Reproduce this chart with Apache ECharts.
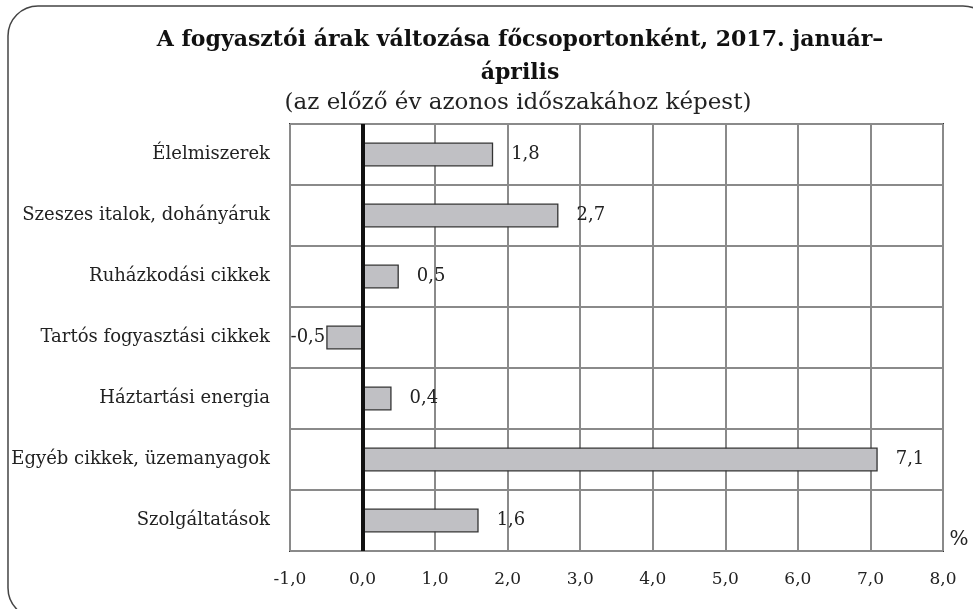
<!DOCTYPE html>
<html>
<head>
<meta charset="utf-8">
<script src="https://cdn.jsdelivr.net/npm/echarts@6/dist/echarts.min.js"></script>
<style>
  html, body { margin: 0; padding: 0; background: #fff; }
  #chart { width: 973px; height: 609px; }
</style>
</head>
<body>
<div id="chart"></div>
<script>
// főcsoportok és változás (%)
var categories = [
  "Élelmiszerek",
  "Szeszes italok, dohányáruk",
  "Ruházkodási cikkek",
  "Tartós fogyasztási cikkek",
  "Háztartási energia",
  "Egyéb cikkek, üzemanyagok",
  "Szolgáltatások"
];
var values = [1.8, 2.7, 0.5, -0.5, 0.4, 7.1, 1.6];
var xMin = -1, xMax = 8, xStep = 1;

var serif = "'DejaVu Serif', 'Liberation Serif', serif";

function fmt(v) {
  return Number(v).toFixed(1).replace(".", ",");
}

var chart = echarts.init(document.getElementById("chart"));
chart.setOption({
  animation: false,
  backgroundColor: "#fff",
  grid: {
    left: 290,
    right: 30,
    top: 124,
    bottom: 58,
    show: true,
    borderColor: "#333",
    borderWidth: 2,
    backgroundColor: "transparent"
  },
  xAxis: {
    type: "value",
    min: xMin,
    max: xMax,
    interval: xStep,
    axisLine: { show: false },
    axisTick: { show: false },
    splitLine: { lineStyle: { color: "#8a8a8a", width: 2 } },
    axisLabel: {
      formatter: fmt,
      fontFamily: serif,
      fontSize: 17,
      color: "#222",
      margin: 20
    }
  },
  yAxis: {
    type: "category",
    data: categories,
    inverse: true,
    axisLine: { show: false },
    axisTick: { show: false },
    splitLine: { show: true, lineStyle: { color: "#8a8a8a", width: 2 } },
    axisLabel: {
      fontFamily: serif,
      fontSize: 18,
      color: "#222",
      margin: 20
    }
  },
  graphic: [
    {
      type: "rect",
      shape: { x: 8, y: 6, width: 985, height: 612, r: 30 },
      style: { fill: "none", stroke: "#444", lineWidth: 1.5 },
      z: -1
    },
    {
      type: "text",
      x: 520, y: 40,
      style: {
        text: "A fogyasztói árak változása főcsoportonként, 2017. január–",
        font: "bold 22px " + serif,
        fill: "#111",
        textAlign: "center",
        textVerticalAlign: "middle"
      }
    },
    {
      type: "text",
      x: 520, y: 73,
      style: {
        text: "április",
        font: "bold 22px " + serif,
        fill: "#111",
        textAlign: "center",
        textVerticalAlign: "middle"
      }
    },
    {
      type: "text",
      x: 518, y: 103,
      style: {
        text: "(az előző év azonos időszakához képest)",
        font: "23px " + serif,
        fill: "#222",
        textAlign: "center",
        textVerticalAlign: "middle"
      }
    },
    {
      type: "text",
      x: 959, y: 540,
      style: {
        text: "%",
        font: "20px " + serif,
        fill: "#222",
        textAlign: "center",
        textVerticalAlign: "middle"
      }
    }
  ],
  series: [
    {
      type: "bar",
      barWidth: 24,
      data: values.map(function (v) {
        return v < 0
          ? { value: v, label: { position: "left", distance: 1 } }
          : { value: v };
      }),
      itemStyle: { color: "#c0c0c4", borderColor: "#333", borderWidth: 1.3 },
      label: {
        show: true,
        position: "right",
        distance: 18,
        formatter: function (p) { return fmt(p.value); },
        fontFamily: serif,
        fontSize: 18,
        color: "#222"
      },
      markLine: {
        silent: true,
        symbol: "none",
        label: { show: false },
        lineStyle: { color: "#111", width: 4, type: "solid" },
        data: [{ xAxis: 0 }]
      }
    }
  ]
});
</script>
</body>
</html>
